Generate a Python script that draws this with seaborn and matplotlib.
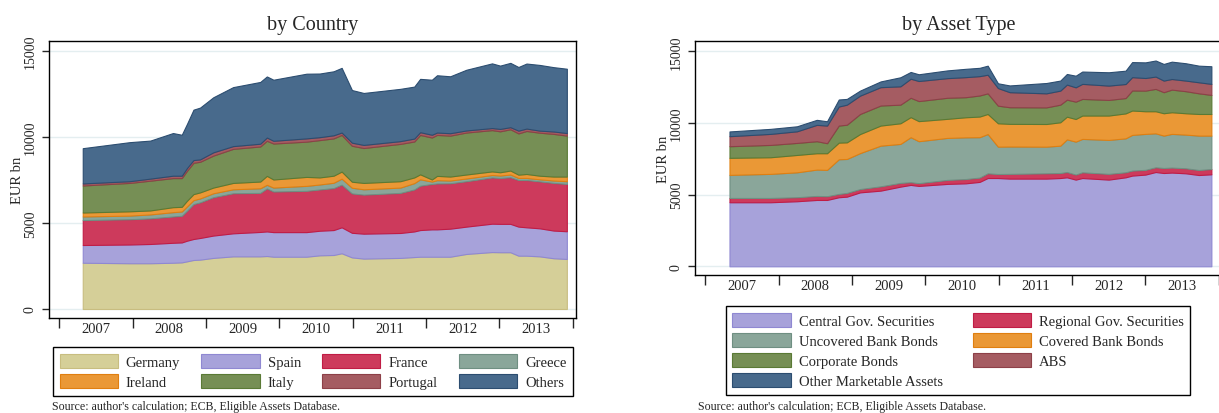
import numpy as np
import matplotlib
matplotlib.use("Agg")
import matplotlib.pyplot as plt
import seaborn as sns

# ---- 国別 (EUR bn, 各層の値) ----
dates_country = [2007.32, 2007.96, 2008.24, 2008.55, 2008.67, 2008.74, 2008.83, 2008.92,
                 2009.10, 2009.37, 2009.74, 2009.83, 2009.92, 2010.37, 2010.55, 2010.74,
                 2010.85, 2010.99, 2011.15, 2011.65, 2011.84, 2011.92, 2012.08, 2012.15,
                 2012.33, 2012.55, 2012.90, 2013.01, 2013.15, 2013.26, 2013.37, 2013.55,
                 2013.74, 2013.92]
germany = [2690, 2660, 2660, 2690, 2710, 2770, 2850, 2870, 2970, 3060, 3060, 3080, 3040, 3040,
           3120, 3140, 3240, 3000, 2930, 2970, 3020, 3040, 3040, 3040, 3040, 3200, 3310, 3300,
           3300, 3100, 3100, 3060, 2950, 2910]
spain = [1030, 1090, 1120, 1160, 1160, 1200, 1220, 1260, 1300, 1340, 1420, 1430, 1430, 1430,
         1430, 1450, 1510, 1430, 1450, 1450, 1490, 1550, 1590, 1590, 1630, 1590, 1650, 1650,
         1650, 1690, 1650, 1630, 1610, 1610]
france = [1450, 1470, 1490, 1530, 1550, 1740, 2030, 2070, 2230, 2330, 2270, 2500, 2360, 2400,
          2400, 2440, 2480, 2290, 2270, 2330, 2440, 2580, 2640, 2670, 2640, 2640, 2690, 2670,
          2710, 2710, 2750, 2730, 2770, 2750]
greece = [210, 210, 230, 250, 250, 250, 230, 230, 230, 230, 270, 210, 230, 290, 290, 310, 350,
          330, 310, 310, 370, 370, 140, 190, 160, 160, 140, 140, 160, 120, 120, 120, 140, 160]
ireland = [230, 250, 230, 290, 270, 330, 350, 350, 330, 370, 390, 520, 470, 520, 410, 410, 410,
           350, 370, 370, 330, 290, 120, 250, 230, 230, 210, 190, 230, 190, 230, 210, 230, 270]
italy = [1570, 1650, 1730, 1690, 1670, 1740, 1820, 1780, 1860, 1980, 2040, 2040, 2090, 2050,
         2170, 2170, 2130, 2090, 2030, 2170, 2090, 2290, 2440, 2380, 2380, 2440, 2400, 2380,
         2400, 2400, 2500, 2500, 2480, 2380]
portugal = [120, 100, 120, 140, 140, 160, 160, 140, 190, 160, 160, 190, 160, 190, 170, 180, 140,
            180, 180, 160, 170, 160, 160, 140, 140, 120, 120, 140, 120, 160, 140, 120, 140, 150]
others = [2050, 2270, 2210, 2480, 2380, 2560, 2930, 3010, 3200, 3430, 3590, 3550, 3550, 3760,
          3700, 3720, 3760, 3060, 3020, 3040, 3020, 3100, 3200, 3330, 3310, 3530, 3760, 3680,
          3740, 3700, 3780, 3820, 3740, 3740]

# ---- 資産タイプ別 (EUR bn, 各層の値) ----
dates_asset = [2007.33, 2007.89, 2008.25, 2008.52, 2008.66, 2008.82, 2008.93, 2009.11,
               2009.39, 2009.66, 2009.80, 2009.91, 2010.30, 2010.55, 2010.74, 2010.85,
               2010.99, 2011.15, 2011.65, 2011.84, 2011.93, 2012.05, 2012.14, 2012.50,
               2012.73, 2012.82, 2013.00, 2013.14, 2013.25, 2013.36, 2013.55, 2013.73, 2013.90]
central_gov = [4470, 4470, 4540, 4630, 4630, 4820, 4860, 5160, 5280, 5560, 5680, 5610, 5750,
               5790, 5890, 6160, 6160, 6120, 6120, 6160, 6210, 6050, 6160, 6050, 6210, 6330,
               6400, 6580, 6510, 6540, 6490, 6370, 6420]
regional_gov = [300, 300, 280, 280, 260, 230, 260, 230, 300, 260, 190, 190, 280, 300, 300, 330,
                280, 330, 370, 350, 370, 350, 400, 400, 350, 350, 330, 330, 350, 350, 350, 350, 370]
uncovered = [1610, 1680, 1740, 1840, 1840, 2420, 2370, 2510, 2840, 2720, 3140, 2930, 2930, 2910,
             2820, 2740, 1910, 1910, 1860, 1910, 2280, 2300, 2330, 2370, 2370, 2490, 2510, 2370,
             2260, 2350, 2350, 2400, 2330]
covered = [1190, 1160, 1210, 1140, 1160, 1160, 1160, 1330, 1400, 1440, 1400, 1400, 1330, 1400,
           1440, 1400, 1630, 1580, 1580, 1630, 1580, 1580, 1630, 1700, 1740, 1700, 1580, 1540,
           1560, 1510, 1490, 1510, 1510]
corporate = [810, 860, 840, 840, 700, 1190, 1230, 1400, 1400, 1300, 1350, 1400, 1470, 1400, 1470,
             1440, 1230, 1160, 1160, 1230, 1190, 1210, 1160, 1090, 1070, 1400, 1440, 1560, 1470,
             1580, 1540, 1440, 1330]
abs_ = [700, 770, 810, 1140, 1230, 1330, 1400, 1280, 1280, 1280, 1330, 1400, 1370, 1400, 1350,
        1300, 1230, 1050, 980, 980, 1050, 1000, 1050, 1000, 980, 930, 880, 860, 810, 740, 740,
        770, 770]
other_mkt = [330, 350, 350, 350, 300, 490, 400, 350, 400, 630, 470, 470, 540, 580, 580, 630, 330,
             470, 720, 700, 740, 810, 860, 930, 930, 1050, 1090, 1120, 1160, 1210, 1210, 1160, 1230]

years = list(range(2007, 2015))
year_labels = [str(y) for y in range(2007, 2014)]
source_text = "Source: author's calculation; ECB, Eligible Assets Database."

# 色 (塗り, 枠線)
C_TAN, E_TAN = "#d5cf98", "#c8bd80"
C_LAV, E_LAV = "#a7a2da", "#8f88d2"
C_RED, E_RED = "#cd3a5c", "#c01c45"
C_GRY, E_GRY = "#8aa69a", "#6f8f82"
C_ORG, E_ORG = "#ea9836", "#e07f10"
C_GRN, E_GRN = "#768f55", "#5a7a35"
C_MAR, E_MAR = "#a55c62", "#8d4048"
C_BLU, E_BLU = "#486a8c", "#2c4d70"

sns.set_theme(style="white")
plt.rcParams["font.family"] = ["Liberation Serif", "DejaVu Serif"]

fig = plt.figure(figsize=(12.19, 4.14), dpi=100)


def draw_panel(ax, dates, layers, labels, colors, edges, title, ylim):
    polys = ax.stackplot(dates, *layers, labels=labels, colors=colors, linewidth=0.8)
    for p, ec in zip(polys, edges):
        p.set_edgecolor(ec)
    ax.set_xlim(2006.864, 2014.045)
    ax.set_ylim(*ylim)
    ax.set_yticks([0, 5000, 10000, 15000])
    ax.set_yticklabels(["0", "5000", "10000", "15000"], rotation=90, va="center", fontsize=10)
    ax.set_xticks(years)
    ax.set_xticklabels([""] * len(years))
    ax.set_xticks([y + 0.5 for y in range(2007, 2014)], minor=True)
    ax.set_xticklabels(year_labels, minor=True, fontsize=10.5)
    ax.tick_params(axis="x", which="major", length=7, width=1, direction="out", bottom=True)
    ax.tick_params(axis="x", which="minor", length=0, pad=3)
    ax.tick_params(axis="y", length=5, width=1, direction="out", pad=4, left=True)
    ax.yaxis.grid(True, color="#e4eef0", linewidth=1)
    ax.set_axisbelow(True)
    for s in ax.spines.values():
        s.set_color("black")
        s.set_linewidth(1)
    ax.set_ylabel("EUR bn", fontsize=10.5, labelpad=0)
    ax.set_title(title, fontsize=14.5, pad=9)
    return dict(zip(labels, polys))


def add_legend(handles, labels, ncol, center, colspace):
    leg = fig.legend(handles, labels, loc="center", ncol=ncol,
                     bbox_to_anchor=center, bbox_transform=fig.transFigure,
                     fontsize=10.5, handlelength=4.0, handleheight=1.1,
                     labelspacing=0.36, handletextpad=0.55, columnspacing=colspace,
                     frameon=True, fancybox=False, framealpha=1, borderpad=0.46)
    leg.get_frame().set_edgecolor("black")
    leg.get_frame().set_linewidth(1)
    return leg


# 左パネル: 国別
ax1 = fig.add_axes([0.04044, 0.22874, 0.43208, 0.66908])
h1 = draw_panel(
    ax1, dates_country,
    [germany, spain, france, greece, ireland, italy, portugal, others],
    ["Germany", "Spain", "France", "Greece", "Ireland", "Italy", "Portugal", "Others"],
    [C_TAN, C_LAV, C_RED, C_GRY, C_ORG, C_GRN, C_MAR, C_BLU],
    [E_TAN, E_LAV, E_RED, E_GRY, E_ORG, E_GRN, E_MAR, E_BLU],
    "by Country", (-541, 15564))
order1 = ["Germany", "Ireland", "Spain", "Italy", "France", "Portugal", "Greece", "Others"]
add_legend([h1[k] for k in order1], order1, 4, (313 / 1219, 1 - 372.5 / 414), 1.45)

# 右パネル: 資産タイプ別
ax2 = fig.add_axes([0.57039, 0.33406, 0.43208, 0.56377])
h2 = draw_panel(
    ax2, dates_asset,
    [central_gov, regional_gov, uncovered, covered, corporate, abs_, other_mkt],
    ["Central Gov. Securities", "Regional Gov. Securities", "Uncovered Bank Bonds",
     "Covered Bank Bonds", "Corporate Bonds", "ABS", "Other Marketable Assets"],
    [C_LAV, C_RED, C_GRY, C_ORG, C_GRN, C_MAR, C_BLU],
    [E_LAV, E_RED, E_GRY, E_ORG, E_GRN, E_MAR, E_BLU],
    "by Asset Type", (-586, 15701))
order2 = ["Central Gov. Securities", "Uncovered Bank Bonds", "Corporate Bonds",
          "Other Marketable Assets", "Regional Gov. Securities", "Covered Bank Bonds", "ABS"]
add_legend([h2[k] for k in order2], order2, 2, (958 / 1219, 1 - 351.5 / 414), 2.05)

# 出典 (画像下端に収まるように配置)
fig.text(52 / 1219, 1 / 414, source_text, fontsize=8.6, va="bottom", ha="left")
fig.text(698 / 1219, 1 / 414, source_text, fontsize=8.6, va="bottom", ha="left")

fig.savefig("out.png", dpi=100)
plt.close(fig)
